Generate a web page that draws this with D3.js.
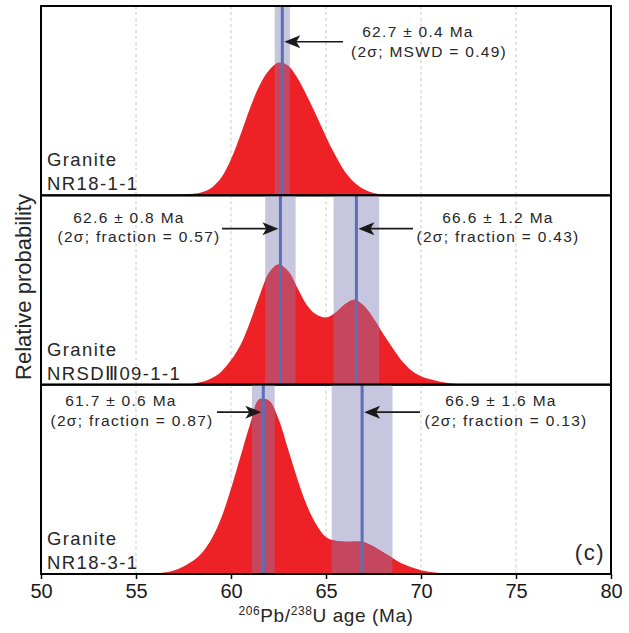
<!DOCTYPE html>
<html>
<head>
<meta charset="utf-8">
<script src="https://cdn.jsdelivr.net/npm/d3@7"></script>
<style>
body{margin:0;background:#fff;}
svg text{font-family:"Liberation Sans",Arial,Helvetica,sans-serif;fill:#262626;}
</style>
</head>
<body>
<div class="plot"></div>
<script>
// probability curves (100 = full panel height)
var ageTop  = [57,57.5,58,58.5,59,59.5,60,60.5,61,61.5,62,62.5,63,63.5,64,64.5,65,65.5,66,66.5,67,67.5,68,68.5,69];
var probTop = [0,0.3,0.8,1.8,4.2,9.5,19,32,46,58,66,70,68.5,62,52.5,42,31,21,12.5,6.8,3.2,1.2,0.4,0.1,0];

var ageMid  = [57.5,58,58.5,59,59.5,60,60.5,61,61.5,62,62.5,63,63.5,64,64.5,65,65.5,66,66.5,67,67.5,68,68.5,69,69.5,70,70.5,71,71.5,72,72.5];
var probMid = [0,0.5,1.5,3.5,7,13,21,33,47,59,63.5,60,51,42,37,35.5,38,42.5,44.8,41.5,35,27,19.5,12.5,7.5,4.5,2.8,1.5,0.7,0.3,0];

var ageBot  = [55.5,56,56.5,57,57.5,58,58.5,59,59.5,60,60.5,61,61.5,62,62.5,63,63.5,64,64.5,65,65.5,66,66.5,67,67.5,68,68.5,69,69.5,70,70.5,71,71.5];
var probBot = [0,0.3,0.8,1.8,4,7,11.5,19,30,45,62,79,92.3,91.5,82,66,50,36,26,19.5,17.5,17,17.2,16.8,14.5,11.5,8.5,5.5,3.5,2,1,0.5,0];

var sampleNames = ["NR18-1-1", "NRSD\u216209-1-1", "NR18-3-1"];

// age estimates
var estPanel = [0, 1, 1, 2, 2];
var estAge   = [62.7, 62.6, 66.6, 61.7, 66.9];
var estErr   = [0.4, 0.8, 1.2, 0.6, 1.6];
var estNote  = ["MSWD = 0.49", "fraction = 0.57", "fraction = 0.43", "fraction = 0.87", "fraction = 0.13"];

var xMajor = [50, 55, 60, 65, 70, 75, 80];

// label placement (page px): arrow tail x, arrow y, line centres and baselines (from panel top)
var labelPos = [
    {tail:343, ay:35.7, c1:418, c2:429, b1:31.3, b2:51},
    {tail:222, ay:33.3, c1:129, c2:139, b1:27.3, b2:47},
    {tail:413, ay:33.3, c1:498, c2:498, b1:27.3, b2:47},
    {tail:217, ay:27.5, c1:121, c2:132, b1:21.8, b2:41.8},
    {tail:420, ay:27.5, c1:501, c2:506, b1:21.8, b2:41.8}
];

var W = 629, H = 633,
    m = {t:6, r:18, b:59, l:41},
    w = W - m.l - m.r,
    h = H - m.t - m.b,
    ph = h / 3;

var panels = [
    {age:ageTop, prob:probTop},
    {age:ageMid, prob:probMid},
    {age:ageBot, prob:probBot}
];

var x = d3.scaleLinear().domain([50, 80]).range([m.l, m.l + w]);
var y = d3.scaleLinear().domain([0, 100]).range([ph, 0]);

var svg = d3.select('.plot').append('svg')
    .attr('width', W)
    .attr('height', H);

var defs = svg.append('defs');

var area = d3.area()
    .x(function(d){return x(d[0]);})
    .y0(ph)
    .y1(function(d){return Math.min(ph, y(d[1]));})
    .curve(d3.curveCatmullRom.alpha(0.5));

panels.forEach(function(p, i){
    var g = svg.append('g').attr('transform', 'translate(0,' + (m.t + i*ph) + ')');
    var pts = p.age.map(function(a, k){return [a, p.prob[k]];});
    var bands = d3.range(estAge.length).filter(function(k){return estPanel[k] == i;});

    g.selectAll('.grid')
        .data(xMajor.slice(1, -1))
        .enter()
        .append('line')
        .attr('x1', function(d){return x(d);})
        .attr('x2', function(d){return x(d);})
        .attr('y1', 0)
        .attr('y2', ph)
        .attr('stroke', '#c8c8c8')
        .attr('stroke-width', 1)
        .attr('stroke-dasharray', '3,3');

    g.selectAll('.band')
        .data(bands)
        .enter()
        .append('rect')
        .attr('x', function(k){return x(estAge[k] - estErr[k]);})
        .attr('width', function(k){return x(estAge[k] + estErr[k]) - x(estAge[k] - estErr[k]);})
        .attr('y', 0)
        .attr('height', ph)
        .attr('fill', '#c6c6df');

    g.append('path')
        .datum(pts)
        .attr('d', area)
        .attr('fill', '#ee2226');

    defs.append('clipPath')
        .attr('id', 'clip' + i)
        .append('path')
        .datum(pts)
        .attr('d', area);

    g.append('g')
        .attr('clip-path', 'url(#clip' + i + ')')
        .selectAll('rect')
        .data(bands)
        .enter()
        .append('rect')
        .attr('x', function(k){return x(estAge[k] - estErr[k]);})
        .attr('width', function(k){return x(estAge[k] + estErr[k]) - x(estAge[k] - estErr[k]);})
        .attr('y', 0)
        .attr('height', ph)
        .attr('fill', '#c5475f');

    g.selectAll('.mean')
        .data(bands)
        .enter()
        .append('line')
        .attr('x1', function(k){return x(estAge[k]);})
        .attr('x2', function(k){return x(estAge[k]);})
        .attr('y1', 0)
        .attr('y2', ph)
        .attr('stroke', '#5b6fb9')
        .attr('stroke-width', 3);

    g.append('rect')
        .attr('x', m.l)
        .attr('y', 0)
        .attr('width', w)
        .attr('height', ph)
        .attr('fill', 'none')
        .attr('stroke', '#000')
        .attr('stroke-width', 2);

    var lab = g.append('text')
        .attr('x', 47)
        .style('font-size', '18.5px')
        .style('letter-spacing', '1.4px');
    lab.append('tspan').attr('x', 47).attr('y', ph - 29).text('Granite');
    lab.append('tspan').attr('x', 47).attr('y', ph - 5).text(sampleNames[i]);

    // labels + arrows
    bands.forEach(function(k){
        var lp = labelPos[k],
            lx = x(estAge[k]),
            dir = lp.tail > lx ? 1 : -1,      // 1: arrow points left
            tip = lx + dir*2,
            back = tip + dir*16;

        g.append('line')
            .attr('x1', lp.tail)
            .attr('x2', tip + dir*10)
            .attr('y1', lp.ay)
            .attr('y2', lp.ay)
            .attr('stroke', '#1a1a1a')
            .attr('stroke-width', 1.6);
        g.append('path')
            .attr('d', 'M' + tip + ',' + lp.ay +
                       'L' + back + ',' + (lp.ay - 6.5) +
                       'L' + (tip + dir*12) + ',' + lp.ay +
                       'L' + back + ',' + (lp.ay + 6.5) + 'Z')
            .attr('fill', '#1a1a1a');

        g.append('text')
            .attr('x', lp.c1)
            .attr('y', lp.b1)
            .attr('text-anchor', 'middle')
            .style('font-size', '15.5px')
            .style('letter-spacing', '1.3px')
            .text(estAge[k].toFixed(1) + ' \u00b1 ' + estErr[k].toFixed(1) + ' Ma');
        g.append('text')
            .attr('x', lp.c2)
            .attr('y', lp.b2)
            .attr('text-anchor', 'middle')
            .style('font-size', '15.5px')
            .style('letter-spacing', '1.3px')
            .text('(2\u03c3; ' + estNote[k] + ')');
    });
});

// x axis
var axisG = svg.append('g').attr('transform', 'translate(0,' + (m.t + h) + ')');
axisG.call(d3.axisBottom(x).tickValues(d3.range(50, 81, 1)).tickSize(3).tickFormat(''));
axisG.call(d3.axisBottom(x).tickValues(xMajor).tickSize(5).tickPadding(5));
axisG.select('.domain').remove();
axisG.selectAll('.tick line').attr('stroke', '#000').attr('stroke-width', 1.5);
axisG.selectAll('.tick text')
    .style('font-size', '20px')
    .style('fill', '#1a1a1a');

var xt = svg.append('text')
    .attr('x', m.l + w/2)
    .attr('y', 621.5)
    .attr('text-anchor', 'middle')
    .style('font-size', '19px')
    .style('letter-spacing', '0.6px');
xt.append('tspan').attr('dy', -7).style('font-size', '12px').text('206');
xt.append('tspan').attr('dy', 7).text('Pb/');
xt.append('tspan').attr('dy', -7).style('font-size', '12px').text('238');
xt.append('tspan').attr('dy', 7).text('U age (Ma)');

svg.append('text')
    .attr('transform', 'translate(31,287) rotate(-90)')
    .attr('text-anchor', 'middle')
    .style('font-size', '22px')
    .text('Relative probability');

svg.append('text')
    .attr('x', 605)
    .attr('y', 560)
    .attr('text-anchor', 'end')
    .style('font-size', '22px')
    .style('letter-spacing', '1.5px')
    .text('(c)');
</script>
</body>
</html>
